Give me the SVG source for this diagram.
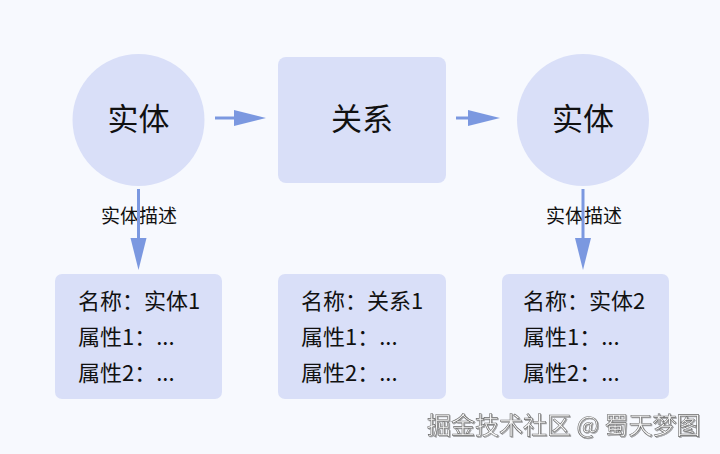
<svg xmlns="http://www.w3.org/2000/svg" width="720" height="454" viewBox="0 0 720 454">
<style>
.node{fill:#d9dff8;}
.big{font-family:"Noto Sans CJK SC","Noto Sans",sans-serif;font-size:31px;fill:#111;text-anchor:middle;}
.txt{font-family:"Noto Sans CJK SC","Noto Sans",sans-serif;font-size:22px;fill:#111;}
.lbl{font-family:"Noto Sans CJK SC","Noto Sans",sans-serif;font-size:19px;fill:#111;text-anchor:middle;}
.edge{stroke:#7b98e0;stroke-width:3;fill:none;}
.wm{font-family:"Noto Sans CJK SC","Noto Sans",sans-serif;font-size:24px;fill:#f8f8f8;stroke:#6a6a6a;stroke-width:0.6;}
</style>
<defs>
<filter id="sh" x="-5%" y="-20%" width="110%" height="140%">
<feDropShadow dx="1" dy="1" stdDeviation="0.6" flood-color="#555" flood-opacity="0.5"/>
</filter>
</defs>
<rect x="0" y="0" width="720" height="454" fill="#f7f9fe"/>
<g id="connectors">
<text class="lbl" x="139" y="223">实体描述</text>
<text class="lbl" x="584" y="223">实体描述</text>
<line class="edge" x1="215" y1="118" x2="236" y2="118"/>
<path d="M234,110 L266,118 L234,126 Z" fill="#7b98e0"/>
<line class="edge" x1="456" y1="118" x2="470" y2="118"/>
<path d="M468,110 L500,118 L468,126 Z" fill="#7b98e0"/>
<line class="edge" x1="138.5" y1="189" x2="138.5" y2="240"/>
<path d="M130.5,238 L138.5,270 L146.5,238 Z" fill="#7b98e0"/>
<line class="edge" x1="583" y1="189" x2="583" y2="240"/>
<path d="M575,238 L583,270 L591,238 Z" fill="#7b98e0"/>
</g>
<g id="entity1">
<circle class="node" cx="138.5" cy="120" r="66"/>
<text class="big" x="138.5" y="130">实体</text>
</g>
<g id="relation">
<rect class="node" x="278" y="57" width="168" height="126" rx="8"/>
<text class="big" x="362" y="130">关系</text>
</g>
<g id="entity2">
<circle class="node" cx="583" cy="120" r="66"/>
<text class="big" x="583" y="130">实体</text>
</g>
<g id="desc1">
<rect class="node" x="55" y="274" width="167" height="125" rx="7"/>
<text class="txt" x="78" y="309">名称：实体1</text>
<text class="txt" x="78" y="345">属性1：...</text>
<text class="txt" x="78" y="381">属性2：...</text>
</g>
<g id="desc2">
<rect class="node" x="278" y="274" width="168" height="125" rx="7"/>
<text class="txt" x="301" y="309">名称：关系1</text>
<text class="txt" x="301" y="345">属性1：...</text>
<text class="txt" x="301" y="381">属性2：...</text>
</g>
<g id="desc3">
<rect class="node" x="502" y="274" width="167" height="125" rx="7"/>
<text class="txt" x="523" y="309">名称：实体2</text>
<text class="txt" x="523" y="345">属性1：...</text>
<text class="txt" x="523" y="381">属性2：...</text>
</g>
<text class="wm" x="427" y="434" filter="url(#sh)">掘金技术社区 @ 蜀天梦图</text>
</svg>
